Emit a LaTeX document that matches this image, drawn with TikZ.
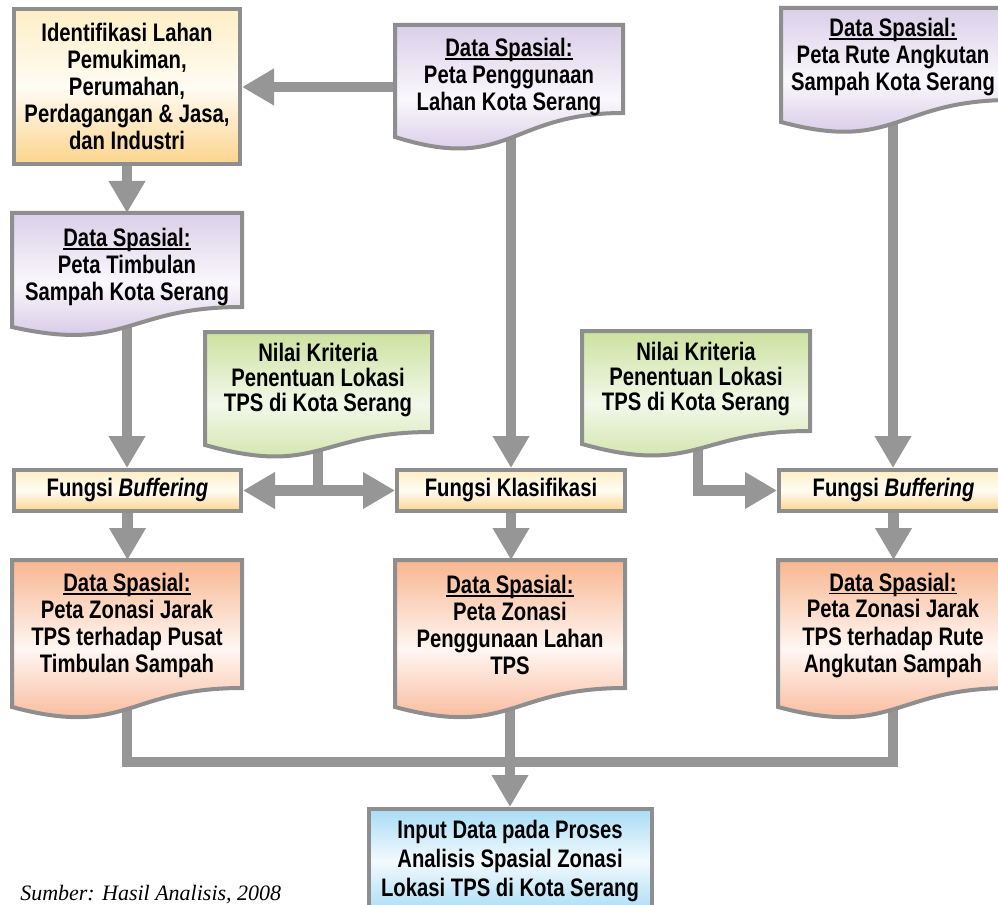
\documentclass[tikz,border=0pt]{standalone}
\usepackage{fontspec}
\setmainfont{Liberation Sans}
\newfontfamily\narrowfont{Liberation Sans}[FakeStretch=0.80]
\newfontfamily\srcfont{Liberation Serif}
\usetikzlibrary{arrows.meta}
\pgfdeclarelayer{bg}
\pgfsetlayers{bg,main}
\definecolor{bordergray}{HTML}{8E8E8E}
\definecolor{conngray}{HTML}{969696}
\definecolor{ytop}{HTML}{FEEEC4}\definecolor{ymid}{HTML}{FFFCF4}\definecolor{ybot}{HTML}{FBD48C}
\definecolor{ltop}{HTML}{DACFE9}\definecolor{lmid}{HTML}{FAF8FC}\definecolor{lbot}{HTML}{CCBCE0}
\definecolor{gtop}{HTML}{CCE2A0}\definecolor{gmid}{HTML}{F3F8EA}\definecolor{gbot}{HTML}{C8DF9A}
\definecolor{otop}{HTML}{F8B690}\definecolor{omid}{HTML}{FFF6F2}\definecolor{obot}{HTML}{F7AC86}
\definecolor{btop}{HTML}{A9DCF5}\definecolor{bmid}{HTML}{F2FAFE}\definecolor{bbot}{HTML}{A9DCF5}
\newcommand\boxfont{\narrowfont\bfseries\fontsize{19}{20.25}\selectfont}
\newcommand\boxfontnk{\narrowfont\bfseries\fontsize{19}{18.9}\selectfont}
\newcommand\boxfontin{\narrowfont\bfseries\fontsize{19}{22}\selectfont}
\newcommand\dsul[1]{\setbox0\hbox{#1}\rlap{\rule[-2.6pt]{\wd0}{1.3pt}}\box0}
% #1 x0, #2 y0, #3 x1, #4 right-bottom offset, #5 left-bottom offset, #6 ctrl offset, #7 style
\newcommand\docshape[7]{%
  \path[#7] (#1,#2) -- (#3,#2) -- (#3,#2+#4)
    .. controls ({(#1+#3)/2},#2+#4) and ({(#1+#3)/2},#2+#6) .. (#1,#2+#5) -- cycle;}
\tikzset{
  boxborder/.style={draw=bordergray, line width=3pt},
  ybox/.style={boxborder, top color=ytop, bottom color=ybot, middle color=ymid},
  lbox/.style={boxborder, top color=ltop, bottom color=lbot, middle color=lmid},
  gbox/.style={boxborder, top color=gtop, bottom color=gbot, middle color=gmid},
  obox/.style={boxborder, top color=otop, bottom color=obot, middle color=omid},
  bbox/.style={boxborder, top color=btop, bottom color=bbot, middle color=bmid},
  txt/.style={font=\boxfont, align=center, inner sep=0pt, text=black},
  conn/.style={draw=conngray, line width=8pt, -{Triangle[width=26pt,length=24pt]}},
  connline/.style={draw=conngray, line width=8pt},
}
\begin{document}
\begin{tikzpicture}[x=0.75pt,y=-0.75pt]
\useasboundingbox (0,0) rectangle (998,905);
\clip (0,0) rectangle (998,905);

% rectangular boxes
\node[ybox, txt, minimum width=169.5pt, minimum height=116.25pt] (id) at (127,86.5)
  {Identifikasi Lahan\\Pemukiman,\\Perumahan,\\Perdagangan \& Jasa,\\dan Industri};
\node[ybox, txt, minimum width=170.25pt, minimum height=30.75pt] (fbl) at (127.5,490.5)
  {Fungsi \textit{Buffering}};
\node[ybox, txt, minimum width=171pt, minimum height=30.75pt] (fk) at (511,490.5)
  {Fungsi Klasifikasi};
\node[ybox, txt, minimum width=171.75pt, minimum height=30.75pt] (fbr) at (893.5,490.5)
  {Fungsi \textit{Buffering}};
\node[bbox, txt, font=\boxfontin, minimum width=212.25pt, minimum height=78pt] (inp) at (510,861)
  {Input Data pada Proses\\Analisis Spasial Zonasi\\Lokasi TPS di Kota Serang};

% document shapes
\docshape{395}{25}{623}{88}{112}{148}{lbox}
\node[txt] (pp) at (509,77) {\dsul{Data Spasial:}\\Peta Penggunaan\\Lahan Kota Serang};
\docshape{781}{8}{1011}{92}{114}{145}{lbox}
\node[txt] (pr) at (893,57) {\dsul{Data Spasial:}\\Peta Rute Angkutan\\Sampah Kota Serang};
\docshape{12}{213}{242}{94}{114}{140}{lbox}
\node[txt] (pt) at (127,267) {\dsul{Data Spasial:}\\Peta Timbulan\\Sampah Kota Serang};
\docshape{205}{332}{432}{100}{113}{145}{gbox}
\node[txt, font=\boxfontnk] (nk1) at (318,380) {Nilai Kriteria\\Penentuan Lokasi\\TPS di Kota Serang};
\docshape{582}{331}{810}{100}{113}{145}{gbox}
\node[txt, font=\boxfontnk] (nk2) at (696,379) {Nilai Kriteria\\Penentuan Lokasi\\TPS di Kota Serang};
\docshape{12}{560}{242}{128}{147}{178}{obox}
\node[txt] (o1) at (127,625) {\dsul{Data Spasial:}\\Peta Zonasi Jarak\\TPS terhadap Pusat\\Timbulan Sampah};
\docshape{395}{560}{625}{128}{147}{178}{obox}
\node[txt] (o2) at (510,625) {\dsul{Data Spasial:}\\Peta Zonasi\\Penggunaan Lahan\\TPS};
\docshape{778}{560}{1010}{128}{147}{178}{obox}
\node[txt] (o3) at (893,625) {\dsul{Data Spasial:}\\Peta Zonasi Jarak\\TPS terhadap Rute\\Angkutan Sampah};

\node[font=\srcfont\itshape\fontsize{16.5}{18}\selectfont, anchor=base west, inner sep=0pt] (src)
  at (20,900) {Sumber: Hasil Analisis, 2008};

% connection points
\coordinate (pp-w) at (400,87);
\coordinate (pp-s) at (511,120);
\coordinate (pr-s) at (893,100);
\coordinate (pt-s) at (127,300);
\coordinate (nk1-s) at (318,420);
\coordinate (j1) at (318,490.5);
\coordinate (nk2-s) at (698,420);
\coordinate (o1-n) at (127,560);
\coordinate (o2-n) at (511,560);
\coordinate (o3-n) at (893,560);
\coordinate (o1-s) at (127,680);
\coordinate (o2-s) at (510,690);
\coordinate (o3-s) at (893,680);
\coordinate (busL) at (127,762);
\coordinate (busR) at (893,762);

\begin{pgfonlayer}{bg}
\draw[conn] (pp-w) -- (pp-w -| id.east);
\draw[conn] (id.south) -- (pt.north |- 0,213);
\draw[conn] (pt-s) -- (pt-s |- fbl.north);
\draw[conn] (pp-s) -- (pp-s |- fk.north);
\draw[conn] (pr-s) -- (pr-s |- fbr.north);
\draw[connline] (nk1-s) -- (j1);
\draw[conn] (j1) -- (fbl.east);
\draw[conn] (j1) -- (fk.west);
\draw[conn] (nk2-s) |- (fbr.west);
\draw[conn] (fbl.south) -- (fbl.south |- o1-n);
\draw[conn] (o2-n |- fk.south) -- (o2-n);
\draw[conn] (fbr.south) -- (fbr.south |- o3-n);
\draw[connline] (o1-s) -- (busL) -- (busR) -- (o3-s);
\draw[conn] (o2-s) -- (o2-s |- inp.north);
\end{pgfonlayer}
\end{tikzpicture}
\end{document}
